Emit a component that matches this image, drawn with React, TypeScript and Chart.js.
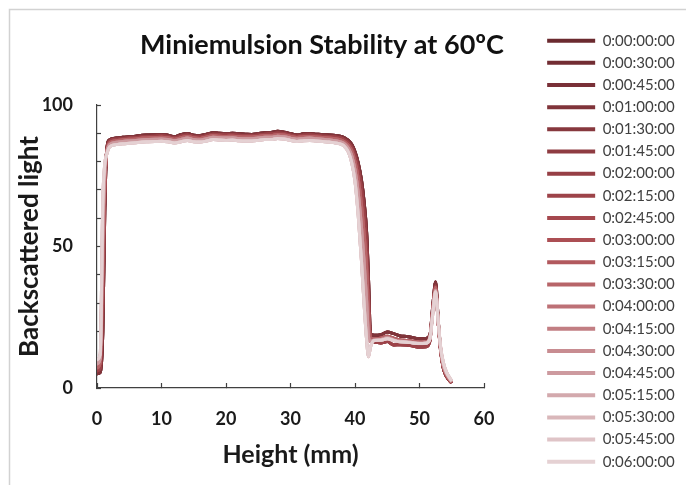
import { useEffect, useRef } from "react";
import { Chart, registerables } from "chart.js";

Chart.register(...registerables);

const chartTitle = "Miniemulsion Stability at 60ºC";
const xAxisTitle = "Height (mm)";
const yAxisTitle = "Backscattered light";

const seriesLabels = [
  "0:00:00:00", "0:00:30:00", "0:00:45:00", "0:01:00:00", "0:01:30:00",
  "0:01:45:00", "0:02:00:00", "0:02:15:00", "0:02:45:00", "0:03:00:00",
  "0:03:15:00", "0:03:30:00", "0:04:00:00", "0:04:15:00", "0:04:30:00",
  "0:04:45:00", "0:05:15:00", "0:05:30:00", "0:05:45:00", "0:06:00:00",
];

const seriesColors = [
  "#6B2A2F", "#722D33", "#793037", "#80343A", "#87383E",
  "#8F3C42", "#963F45", "#9D4349", "#A5484E", "#AC4F54",
  "#B2595E", "#B76569", "#BD7176", "#C27E83", "#C88C91",
  "#CD9A9F", "#D3A9AD", "#D9B7BA", "#DFC4C7", "#E5D1D3",
];

// which measured profile each time step follows (profiles overlap closely)
const seriesProfile = [0, 0, 0, 0, 1, 1, 1, 1, 2, 2, 2, 2, 3, 3, 3, 3, 4, 4, 4, 4];

const heightsMm = [
  0, 0.5, 0.9, 1.2, 1.5, 2,
  3, 4, 5, 6, 7, 8, 9, 10, 11, 12, 13, 14, 15, 16, 17, 18, 19, 20, 21, 22, 23, 24, 25, 26, 27, 28, 29, 30, 31, 32, 33, 34, 35, 36, 37,
  38, 38.5, 39, 39.5, 40, 40.5, 41, 41.4, 41.8, 42.1, 42.4,
  43, 44, 45, 46, 47, 48, 49, 50, 51, 51.6, 52.1, 52.5, 52.9, 53.3, 53.7, 54.2, 55,
];

const backscatterA = [
  5, 5.5, 20, 62, 84, 87.8,
  88.3, 88.6, 88.8, 89.0, 89.3, 89.4, 89.5, 89.6, 89.3, 88.8, 89.5, 89.9, 89.3, 89.2, 89.7, 90.2, 90.0, 89.9, 90.0, 89.8, 89.7, 89.6, 89.9, 90.2, 90.3, 90.7, 90.4, 89.9, 89.4, 89.8, 89.9, 89.7, 89.5, 89.4, 89.2,
  88.8, 88.2, 87.4, 86.0, 83.5, 79.5, 73.5, 66, 55, 38, 19,
  18.6, 18.8, 19.8, 19.2, 18.4, 18.2, 17.8, 17.4, 17.5, 18.6, 30, 37.5, 24, 13, 7, 4, 1.8,
];

const backscatterB = [
  6, 7, 30, 68, 83.5, 87.3,
  87.9, 88.1, 88.4, 88.5, 88.8, 88.9, 89.0, 89.1, 88.9, 88.4, 89.0, 89.4, 88.9, 88.7, 89.2, 89.7, 89.6, 89.4, 89.5, 89.3, 89.2, 89.2, 89.4, 89.7, 89.8, 90.1, 89.9, 89.4, 89.0, 89.3, 89.4, 89.2, 89.0, 88.9, 88.7,
  88.2, 87.5, 86.6, 85.0, 82.0, 77.5, 70.5, 62, 50, 32, 16.6,
  16.2, 15.9, 16.4, 15.2, 15.3, 15.2, 14.8, 14.5, 14.6, 16.5, 29, 36, 23, 12.5, 7, 4, 1.8,
];

const backscatterC = [
  7, 9, 42, 72, 83, 86.7,
  87.4, 87.7, 87.9, 88.0, 88.3, 88.4, 88.5, 88.6, 88.4, 87.9, 88.4, 88.9, 88.4, 88.2, 88.7, 89.2, 89.0, 88.9, 89.0, 88.8, 88.7, 88.7, 88.9, 89.2, 89.2, 89.6, 89.4, 88.9, 88.5, 88.8, 88.9, 88.7, 88.5, 88.3, 88.1,
  87.5, 86.8, 85.7, 83.8, 80.0, 74.0, 65.0, 55, 43, 27, 17.5,
  17.5, 17.6, 18.3, 17.6, 17.0, 16.8, 16.5, 16.2, 16.3, 17.8, 29, 35.5, 23, 13, 7.5, 4.5, 2,
];

const backscatterD = [
  8.5, 10.5, 55, 76, 83, 86.1,
  86.8, 87.1, 87.3, 87.5, 87.7, 87.8, 87.9, 88.0, 87.8, 87.4, 87.8, 88.3, 87.8, 87.6, 88.1, 88.6, 88.4, 88.3, 88.4, 88.2, 88.1, 88.1, 88.3, 88.6, 88.6, 89.0, 88.8, 88.3, 87.9, 88.2, 88.3, 88.1, 87.9, 87.7, 87.4,
  86.8, 86.0, 84.6, 82.0, 77.0, 69.0, 57.0, 45, 31, 18, 16.5,
  17.0, 17.1, 17.8, 17.0, 16.5, 16.4, 16.1, 15.8, 16.0, 17.5, 28, 34.5, 23, 13.5, 8, 5, 2.2,
];

const backscatterE = [
  10, 12, 66, 79, 82.5, 85.3,
  86.0, 86.3, 86.5, 86.7, 86.9, 87.0, 87.1, 87.2, 87.0, 86.6, 87.0, 87.5, 87.0, 86.9, 87.3, 87.8, 87.6, 87.5, 87.6, 87.4, 87.3, 87.3, 87.5, 87.8, 87.8, 88.2, 88.0, 87.5, 87.1, 87.4, 87.5, 87.3, 87.1, 86.9, 86.6,
  86.0, 85.0, 83.2, 79.5, 73.0, 61.0, 45.0, 30, 17, 11, 14.5,
  16.8, 16.9, 17.4, 16.8, 16.3, 16.2, 15.9, 15.7, 15.8, 17.3, 27, 34, 23.5, 14, 9, 5.5, 2.5,
];

const profiles = [backscatterA, backscatterB, backscatterC, backscatterD, backscatterE];

const xTickValues = [0, 10, 20, 30, 40, 50, 60];
const yLabelledTicks = [0, 50, 100];

export default function App() {
  const ref = useRef<HTMLCanvasElement>(null);

  useEffect(() => {
    const canvas = ref.current;
    if (!canvas) return;

    const framePlugin = {
      id: "frame",
      beforeDraw(chart: any) {
        const ctx = chart.ctx;
        ctx.save();
        ctx.strokeStyle = "#d2d2d2";
        ctx.lineWidth = 1.5;
        ctx.beginPath();
        ctx.moveTo(chart.width, 9.5);
        ctx.lineTo(9.5, 9.5);
        ctx.lineTo(9.5, chart.height);
        ctx.stroke();
        ctx.restore();
      },
    };

    const titlePlugin = {
      id: "mainTitle",
      afterDraw(chart: any) {
        const ctx = chart.ctx;
        ctx.save();
        ctx.font = "bold 27px Lato";
        ctx.fillStyle = "#111111";
        ctx.textAlign = "center";
        ctx.textBaseline = "middle";
        ctx.fillText(chartTitle, 322, 45);
        ctx.restore();
      },
    };

    // leave a gap between the plot and the legend, as in the original layout
    const legendGapPlugin = {
      id: "legendGap",
      afterLayout(chart: any) {
        const lg = chart.legend;
        if (!lg) return;
        lg.left = 540;
        lg.right = chart.width;
        lg.width = lg.right - lg.left;
      },
    };

    const datasets = seriesLabels.map((label, i) => {
      const values = profiles[seriesProfile[i]];
      return {
        label,
        data: heightsMm.map((h, k) => ({ x: h, y: values[k] })),
        borderColor: seriesColors[i],
        backgroundColor: seriesColors[i],
        borderWidth: 3,
        pointRadius: 0,
        fill: false,
        cubicInterpolationMode: "monotone" as const,
        order: seriesLabels.length - 1 - i,
        xAxisID: "x",
        yAxisID: "y",
      };
    });

    const tickFont = { family: "Lato", size: 18, weight: "bold" as const };

    const chart = new Chart(canvas, {
      type: "line",
      data: { datasets },
      plugins: [framePlugin, titlePlugin, legendGapPlugin],
      options: {
        animation: false,
        responsive: false,
        events: [],
        layout: { padding: { top: 17.4, right: 62, bottom: 0, left: 0 } },
        scales: {
          x: {
            type: "linear",
            position: "bottom",
            min: 0,
            max: 60,
            afterBuildTicks: (s: any) => {
              s.ticks = xTickValues.map((v) => ({ value: v }));
            },
            ticks: {
              autoSkip: false,
              maxRotation: 0,
              padding: 25.5,
              color: "#1a1a1a",
              font: tickFont,
            },
            grid: {
              display: true,
              drawOnChartArea: false,
              drawTicks: true,
              tickLength: -5,
              tickColor: "#404040",
              tickWidth: 1.2,
            },
            border: { display: true, color: "#404040", width: 1.2 },
            title: {
              display: true,
              text: xAxisTitle,
              color: "#1a1a1a",
              font: { family: "Lato", size: 25, weight: "bold" },
              padding: { top: 0, bottom: 15 },
            },
            afterFit: (s: any) => {
              s.height = 97;
            },
          },
          y: {
            type: "linear",
            position: "left",
            min: 0,
            max: 100,
            ticks: {
              stepSize: 10,
              autoSkip: false,
              padding: 28,
              color: "#1a1a1a",
              font: tickFont,
              callback: (v: any) => (yLabelledTicks.includes(Number(v)) ? String(v) : ""),
            },
            grid: {
              display: true,
              drawOnChartArea: false,
              drawTicks: true,
              tickLength: -4,
              tickColor: "#404040",
              tickWidth: 1.2,
            },
            border: { display: true, color: "#404040", width: 1.2 },
            title: {
              display: true,
              text: yAxisTitle,
              color: "#1a1a1a",
              font: { family: "Lato", size: 26, weight: "bold" },
              padding: { top: 14.4, bottom: 0 },
            },
            afterFit: (s: any) => {
              s.width = 97;
            },
          },
          xTop: {
            type: "linear",
            position: "top",
            display: true,
            grid: { display: false },
            ticks: { display: false },
            border: { display: false },
            afterFit: (s: any) => {
              s.height = 87.6;
            },
          },
        },
        plugins: {
          title: { display: false },
          tooltip: { enabled: false },
          legend: {
            display: true,
            position: "right",
            align: "center",
            maxWidth: 140,
            labels: {
              boxWidth: 48,
              boxHeight: 4,
              padding: 7.16,
              color: "#404040",
              font: { family: "Lato", size: 15 },
              sort: (a: any, b: any) => a.datasetIndex - b.datasetIndex,
              generateLabels: (c: any) =>
                (Chart.defaults.plugins.legend.labels as any)
                  .generateLabels(c)
                  .map((it: any) => ({ ...it, lineWidth: 0, fillStyle: it.strokeStyle })),
            },
          },
        },
      } as any,
    });

    return () => chart.destroy();
  }, []);

  return (
    <div style={{ position: "fixed", left: 0, top: 0, width: 686, height: 485, background: "#ffffff" }}>
      <canvas ref={ref} width={686} height={485} style={{ display: "block" }} />
    </div>
  );
}
